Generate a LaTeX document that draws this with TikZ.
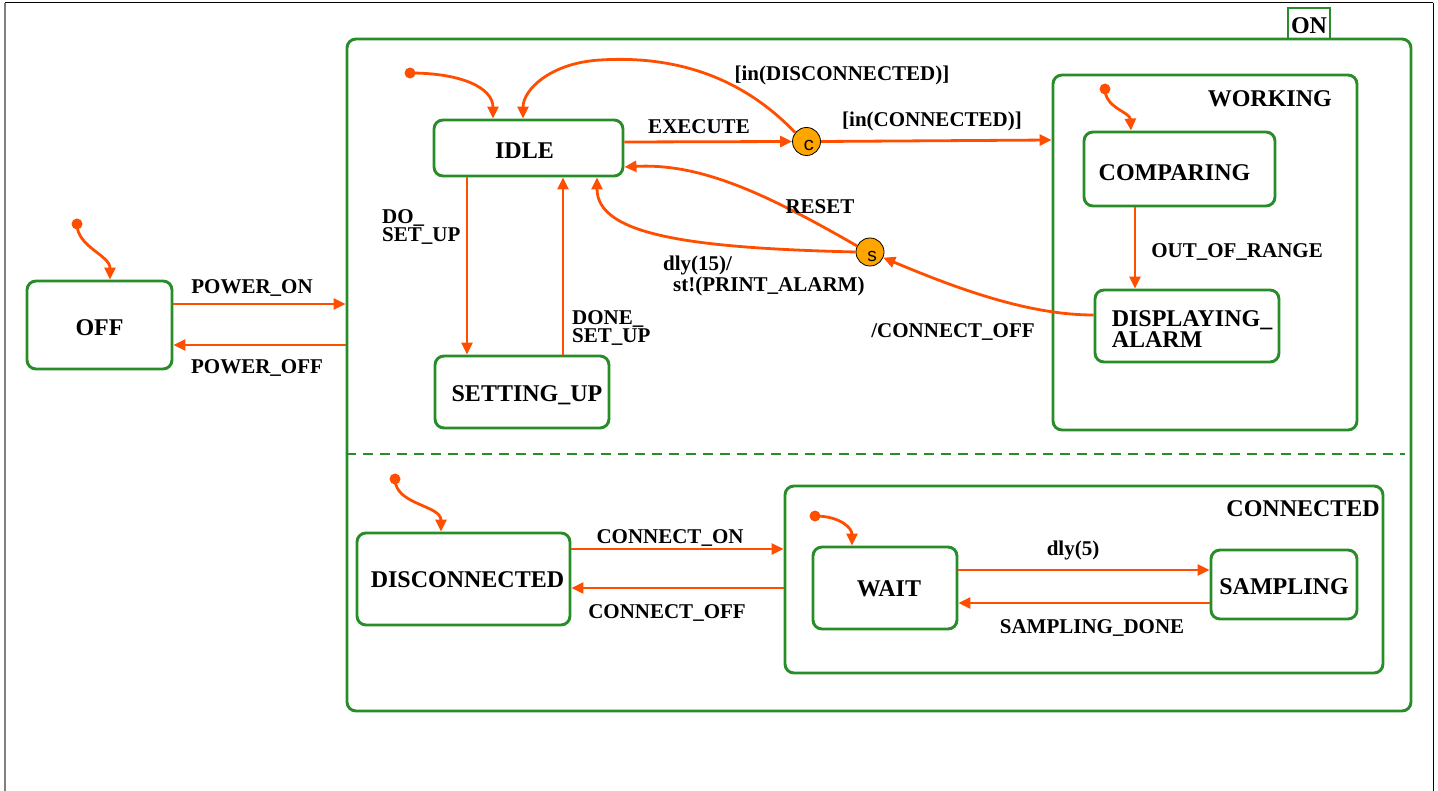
\documentclass[tikz,border=0pt]{standalone}
\usepackage{fontspec}
\setmainfont{Liberation Serif}
\newfontfamily\monofnt{Liberation Mono}
\usetikzlibrary{arrows.meta,calc}
\definecolor{sgreen}{RGB}{40,140,40}
\definecolor{sorange}{RGB}{255,78,0}
\definecolor{pfill}{RGB}{255,165,0}
\newcommand\stfont{\fontsize{24}{20}\selectfont\bfseries}
\newcommand\lbfont{\fontsize{21}{18}\selectfont\bfseries}
\newcommand\dn[2][3pt]{\raisebox{-#1}[\height][\depth]{#2}}
\begin{document}
\begin{tikzpicture}[x=1pt,y=-1pt,
  stbox/.style={draw=sgreen, line width=2.9pt, rounded corners=9pt, inner sep=0pt, font=\stfont, text=black},
  tr/.style={draw=sorange, line width=2.8pt, -{Triangle[length=12pt,width=11pt]}},
  lb/.style={font=\lbfont, inner sep=0pt, text=black},
  initdot/.style={circle, fill=sorange, inner sep=0pt, minimum size=11pt},
  pseudo/.style={circle, draw=black, line width=0.8pt, fill=pfill, inner sep=0pt, minimum size=28pt},
  pslet/.style={font=\monofnt\fontsize{19}{19}\selectfont, inner sep=0pt}]
\useasboundingbox (0,0) rectangle (1438,791);
% outer frame
\draw[black, line width=1pt] (5,3) -- (1433,3);
\draw[black, line width=1pt] (1433,3) -- (1433,791);
\draw[gray, line width=2pt] (5,3) -- (5,791);

% ON superstate
\node[stbox, minimum width=1064pt, minimum height=672pt] (on) at (879,375) {};
\node[draw=sgreen, line width=2.2pt, minimum width=42pt, minimum height=31pt, inner sep=0pt, font=\stfont] (ontag) at (1309,23.5) {\dn[2pt]{ON}};
\draw[sgreen, line width=2.9pt, dash pattern=on 10pt off 7pt] (on.west |- 0,454) -- (1405,454);

% states
\node[stbox, minimum width=145pt, minimum height=88pt] (off) at (99.5,325) {\dn{OFF}};
\node[stbox, minimum width=189pt, minimum height=56pt] (idle) at (528.5,148) {\dn{\hspace*{-8pt}IDLE}};
\node[stbox, minimum width=174pt, minimum height=72pt, text depth=0pt] (setup) at (522,392) {\dn[2pt]{\hspace*{10pt}SETTING\_UP}};
\node[stbox, minimum width=304pt, minimum height=355pt] (working) at (1205,252.5) {};
\node[lb, font=\stfont, anchor=east] (workinglbl) at (1332,99) {WORKING};
\node[stbox, minimum width=191pt, minimum height=74pt] (comp) at (1179.5,169) {\dn[4pt]{\hspace*{-10pt}COMPARING}};
\node[stbox, minimum width=184pt, minimum height=72pt] (disp) at (1187,326) {\dn[6pt]{\hspace*{10pt}\begin{tabular}{@{}l@{}}DISPLAYING\_\\ALARM\end{tabular}}};
\node[stbox, minimum width=213pt, minimum height=92pt] (disc) at (463.5,579) {\dn[1pt]{\hspace*{8pt}DISCONNECTED}};
\node[stbox, minimum width=598pt, minimum height=187pt] (connected) at (1084,579.5) {};
\node[lb, font=\stfont, anchor=east] (connlbl) at (1380,509) {CONNECTED};
\node[stbox, minimum width=144pt, minimum height=82pt] (wait) at (885,588) {\dn[1pt]{\hspace*{8pt}WAIT}};
\node[stbox, minimum width=146pt, minimum height=69pt] (samp) at (1284,584.5) {\dn[2pt]{SAMPLING}};

% pseudo states
\node[pseudo] (c) at (806.5,141.5) {};
\node[pslet] (clet) at (809,145) {c};
\node[pseudo] (s) at (870,252) {};
\node[pslet] (slet) at (872,256) {s};

% initial dots
\node[initdot] (i1) at (77,224) {};
\node[initdot] (i2) at (410,73) {};
\node[initdot] (i3) at (1105,89) {};
\node[initdot] (i4) at (395,479) {};
\node[initdot] (i5) at (815,516) {};
\draw[tr] (i1.center) .. controls (77,247) and (110,255) .. (off.north -| 110,0);
\draw[tr] (i2.center) .. controls (462,73) and (493,88) .. (idle.north -| 493,0);
\draw[tr] (i3.center) .. controls (1105,108) and (1130,112) .. (comp.north -| 1131,0);
\draw[tr] (i4.center) .. controls (395,505) and (441,505) .. (disc.north -| 441,0);
\draw[tr] (i5.center) .. controls (840,516) and (852,528) .. (wait.north -| 852,0);

% transitions
\draw[tr] (off.east |- 0,304) -- (on.west |- 0,304);
\draw[tr] (on.west |- 0,345) -- (off.east |- 0,345);
\draw[tr] (idle.east |- 0,142) -- (c.west);
\draw[tr] (c.east) -- (working.west |- 0,140);
\draw[tr] (c.142) .. controls (745,80) and (680,55) .. (600,60) .. controls (550,63) and (523,90) .. (idle.north -| 523,0);
\draw[tr] (idle.south -| 467,0) -- (setup.north -| 467,0);
\draw[tr] (setup.north -| 563,0) -- (idle.south -| 563,0);
\draw[tr] (s.155) .. controls (765,193) and (700,163) .. (idle.east |- 0,167);
\draw[tr] (s.180) .. controls (690,248) and (597,235) .. (idle.south -| 597,0);
\draw[tr] (disp.west |- 0,315) .. controls (1030,315) and (960,290) .. (s.-23);
\draw[tr] (comp.south -| 1135,0) -- (disp.north -| 1135,0);
\draw[tr] (disc.east |- 0,549) -- (connected.west |- 0,549);
\draw[tr] (connected.west |- 0,588) -- (disc.east |- 0,588);
\draw[tr] (wait.east |- 0,570) -- (samp.west |- 0,570);
\draw[tr] (samp.west |- 0,603) -- (wait.east |- 0,603);

% labels
\node[lb] (l1) at (252,288) {POWER\_ON};
\node[lb] (l2) at (257,368) {POWER\_OFF};
\node[lb] (l3) at (699,127) {EXECUTE};
\node[lb] (l4) at (932,121) {[in(CONNECTED)]};
\node[lb] (l5) at (842,75) {[in(DISCONNECTED)]};
\node[lb, anchor=west, align=left] (l6) at (382,227) {DO\_\\SET\_UP};
\node[lb, anchor=west, align=left] (l7) at (572,328) {DONE\_\\SET\_UP};
\node[lb] (l8) at (820,207) {RESET};
\node[lb, anchor=west, align=left] (l9) at (663,276) {dly(15)/\\\hspace*{10pt}st!(PRINT\_ALARM)};
\node[lb] (l10) at (953,332) {/CONNECT\_OFF};
\node[lb] (l11) at (1237,252) {OUT\_OF\_RANGE};
\node[lb] (l12) at (670,538) {CONNECT\_ON};
\node[lb] (l13) at (667,613) {CONNECT\_OFF};
\node[lb] (l14) at (1073,550) {dly(5)};
\node[lb] (l15) at (1092,628) {SAMPLING\_DONE};
\end{tikzpicture}
\end{document}
